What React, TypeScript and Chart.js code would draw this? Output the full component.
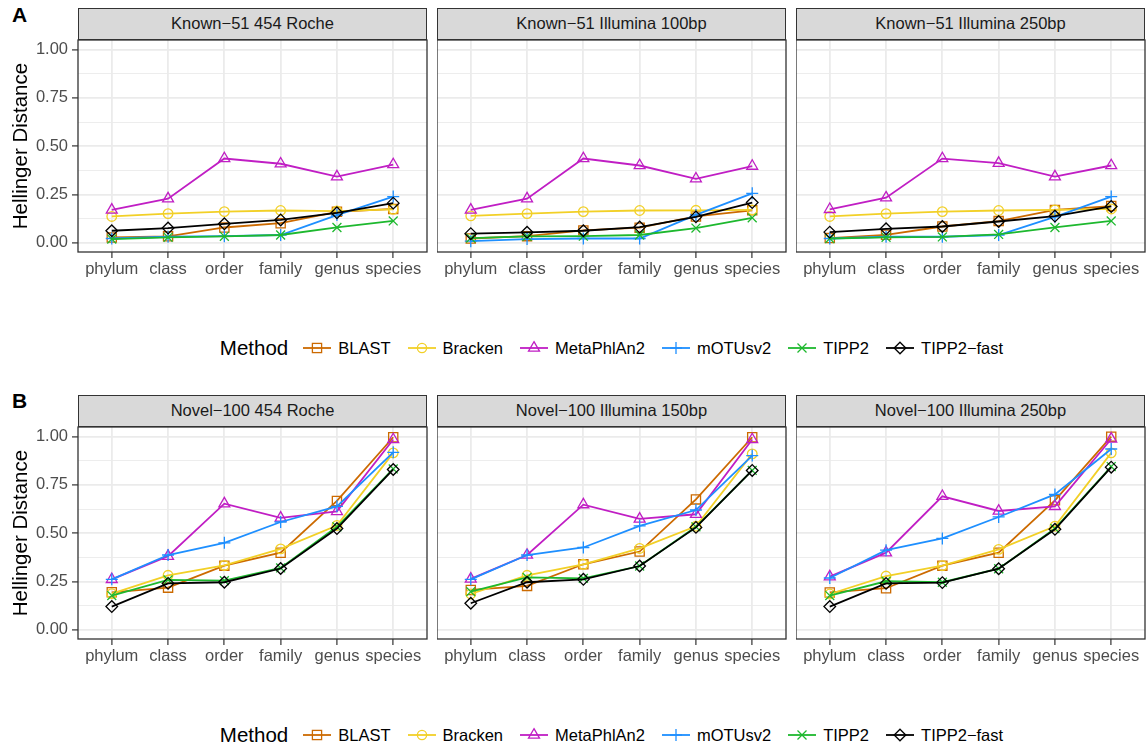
import React, { useEffect, useRef } from "react";
import { Chart, registerables } from "chart.js";

Chart.register(...registerables);

const FONT = "'Liberation Sans', Arial, Helvetica, sans-serif";

// ---- data ----
const categories = ["phylum", "class", "order", "family", "genus", "species"];
const methods = ["BLAST", "Bracken", "MetaPhlAn2", "mOTUsv2", "TIPP2", "TIPP2\u2212fast"];
const methodColors = ["#CC6A00", "#F2D027", "#C01EC4", "#1E8FFF", "#1DB82E", "#000000"];
const methodShapes = ["rect", "circle", "triangle", "cross", "crossRot", "rectRot"];
const yTickValues = [0, 0.125, 0.25, 0.375, 0.5, 0.625, 0.75, 0.875, 1];
const yTickLabels = ["0.00", "", "0.25", "", "0.50", "", "0.75", "", "1.00"];

const rowATitles = ["Known\u221251 454 Roche", "Known\u221251 Illumina 100bp", "Known\u221251 Illumina 250bp"];
const rowBTitles = ["Novel\u2212100 454 Roche", "Novel\u2212100 Illumina 150bp", "Novel\u2212100 Illumina 250bp"];

// rows: BLAST, Bracken, MetaPhlAn2, mOTUsv2, TIPP2, TIPP2-fast
const known454 = [
  [0.027, 0.033, 0.079, 0.101, 0.160, 0.175],
  [0.136, 0.151, 0.161, 0.167, 0.164, 0.173],
  [0.170, 0.228, 0.436, 0.409, 0.342, 0.405],
  [0.022, 0.031, 0.034, 0.040, 0.143, 0.239],
  [0.019, 0.028, 0.033, 0.040, 0.079, 0.113],
  [0.062, 0.076, 0.098, 0.118, 0.155, 0.205],
];
const known100 = [
  [0.022, 0.034, 0.064, 0.078, 0.136, 0.168],
  [0.139, 0.151, 0.161, 0.167, 0.168, 0.170],
  [0.170, 0.228, 0.436, 0.400, 0.331, 0.397],
  [0.008, 0.019, 0.022, 0.022, 0.144, 0.256],
  [0.024, 0.033, 0.034, 0.040, 0.076, 0.129],
  [0.047, 0.054, 0.062, 0.081, 0.134, 0.208],
];
const known250 = [
  [0.024, 0.041, 0.084, 0.112, 0.170, 0.190],
  [0.136, 0.151, 0.161, 0.167, 0.170, 0.175],
  [0.173, 0.233, 0.436, 0.412, 0.342, 0.400],
  [0.022, 0.031, 0.031, 0.040, 0.134, 0.239],
  [0.022, 0.028, 0.030, 0.043, 0.079, 0.113],
  [0.055, 0.072, 0.084, 0.110, 0.138, 0.188],
];
const novel454 = [
  [0.194, 0.218, 0.332, 0.399, 0.667, 0.997],
  [0.187, 0.282, 0.333, 0.419, 0.540, 0.916],
  [0.261, 0.381, 0.653, 0.579, 0.613, 0.985],
  [0.261, 0.387, 0.450, 0.558, 0.639, 0.919],
  [0.177, 0.258, 0.254, 0.320, 0.533, 0.833],
  [0.120, 0.240, 0.246, 0.317, 0.524, 0.830],
];
const novel150 = [
  [0.206, 0.227, 0.339, 0.405, 0.675, 0.997],
  [0.185, 0.282, 0.339, 0.421, 0.536, 0.911],
  [0.263, 0.387, 0.648, 0.574, 0.598, 0.985],
  [0.261, 0.387, 0.426, 0.538, 0.620, 0.902],
  [0.197, 0.271, 0.266, 0.330, 0.533, 0.825],
  [0.137, 0.246, 0.261, 0.330, 0.530, 0.825],
];
const novel250 = [
  [0.193, 0.215, 0.332, 0.399, 0.670, 1.000],
  [0.185, 0.278, 0.332, 0.416, 0.536, 0.916],
  [0.275, 0.399, 0.691, 0.615, 0.639, 0.988],
  [0.268, 0.412, 0.473, 0.584, 0.701, 0.936],
  [0.177, 0.251, 0.246, 0.316, 0.524, 0.845],
  [0.120, 0.240, 0.244, 0.316, 0.520, 0.842],
];

// ---- layout ----
const COL_LEFT = [78, 437, 796];
const PANEL_W = 349;
const STRIP_H = 32;
const PLOT_H = 212;
const Y_AXIS_W = 78;
const X_AXIS_H = 40;
const POINT_RADIUS: Record<string, number> = {
  rect: 6.5, circle: 4.8, triangle: 6.3, cross: 6, crossRot: 6.3, rectRot: 5.8,
};

const isMajor = (v: number) => Math.abs(v * 4 - Math.round(v * 4)) < 1e-6;

const borderPlugin = {
  id: "panelBorder",
  afterDraw(chart: any) {
    const { ctx, chartArea: a } = chart;
    ctx.save();
    ctx.strokeStyle = "#333333";
    ctx.lineWidth = 1.3;
    ctx.strokeRect(a.left, a.top, a.right - a.left, a.bottom - a.top);
    ctx.restore();
  },
};

function Panel({ col, plotTop, values, title }: { col: number; plotTop: number; values: number[][]; title: string }) {
  const ref = useRef<HTMLCanvasElement | null>(null);
  const showY = col === 0;
  const canvasLeft = showY ? 0 : COL_LEFT[col];
  const canvasW = (showY ? Y_AXIS_W : 0) + PANEL_W + 1;
  const canvasH = 1 + PLOT_H + X_AXIS_H;

  useEffect(() => {
    if (!ref.current) return;
    const datasets = methods.map((m, i) => ({
      label: m,
      data: values[i].map((v, j) => ({ x: j, y: v })),
      borderColor: methodColors[i],
      backgroundColor: methodColors[i],
      borderWidth: 1.8,
      pointStyle: methodShapes[i] as any,
      pointRadius: POINT_RADIUS[methodShapes[i]],
      pointBorderColor: methodColors[i],
      pointBackgroundColor: "rgba(0,0,0,0)",
      pointBorderWidth: 1.3,
      tension: 0,
      order: methods.length - 1 - i,
    }));
    const chart = new Chart(ref.current, {
      type: "line",
      data: { datasets },
      plugins: [borderPlugin],
      options: {
        animation: false,
        responsive: false,
        devicePixelRatio: 1,
        layout: { autoPadding: false, padding: { top: 1, right: 1, left: 0, bottom: 0 } },
        plugins: { legend: { display: false }, tooltip: { enabled: false } },
        scales: {
          x: {
            type: "linear",
            min: -0.6,
            max: 5.6,
            afterBuildTicks: (s: any) => {
              s.ticks = categories.map((_, i) => ({ value: i }));
            },
            afterFit: (s: any) => {
              s.height = X_AXIS_H;
              s.paddingLeft = 0;
              s.paddingRight = 0;
            },
            border: { display: false },
            grid: {
              color: "#EBEBEB",
              lineWidth: 1.8,
              drawTicks: true,
              tickLength: 6,
              tickColor: "#333333",
              tickWidth: 1.2,
            },
            ticks: {
              autoSkip: false,
              maxRotation: 0,
              minRotation: 0,
              padding: 2,
              color: "#4D4D4D",
              font: { family: FONT, size: 16.5 },
              callback: (v: any) => categories[Math.round(Number(v))] ?? "",
            },
          },
          y: {
            type: "linear",
            min: -0.048,
            max: 1.05,
            afterBuildTicks: (s: any) => {
              s.ticks = yTickValues.map((v) => ({ value: v }));
            },
            afterFit: (s: any) => {
              s.width = showY ? Y_AXIS_W : 0;
              s.paddingTop = 0;
              s.paddingBottom = 0;
            },
            border: { display: false },
            grid: {
              color: "#EBEBEB",
              lineWidth: (c: any) => (c.tick && isMajor(c.tick.value) ? 1.8 : 0.9),
              drawTicks: showY,
              tickLength: 6,
              tickColor: (c: any) => (c.tick && isMajor(c.tick.value) ? "#333333" : "rgba(0,0,0,0)"),
              tickWidth: 1.2,
            },
            ticks: {
              display: showY,
              padding: 4,
              color: "#4D4D4D",
              font: { family: FONT, size: 16.5 },
              callback: (v: any) => {
                const idx = yTickValues.findIndex((t) => Math.abs(t - Number(v)) < 1e-6);
                return idx >= 0 ? yTickLabels[idx] : "";
              },
            },
          },
        },
      } as any,
    });
    return () => chart.destroy();
  }, [values, showY]);

  return (
    <>
      <div
        style={{
          position: "absolute",
          left: COL_LEFT[col],
          top: plotTop - STRIP_H,
          width: PANEL_W,
          height: STRIP_H,
          boxSizing: "border-box",
          background: "#D9D9D9",
          border: "1.3px solid #333333",
          display: "flex",
          alignItems: "center",
          justifyContent: "center",
          fontFamily: FONT,
          fontSize: 16.5,
          color: "#1A1A1A",
          whiteSpace: "nowrap",
        }}
      >
        {title}
      </div>
      <canvas
        ref={ref}
        width={canvasW}
        height={canvasH}
        style={{ position: "absolute", left: canvasLeft, top: plotTop - 1, width: canvasW, height: canvasH }}
      />
    </>
  );
}

function LegendSymbol({ shape, color }: { shape: string; color: string }) {
  const cx = 14, cy = 10;
  let mark: React.ReactNode = null;
  const sw = 1.3;
  if (shape === "rect") mark = <rect x={cx - 4.6} y={cy - 4.6} width={9.2} height={9.2} fill="none" stroke={color} strokeWidth={sw} />;
  else if (shape === "circle") mark = <circle cx={cx} cy={cy} r={4.6} fill="none" stroke={color} strokeWidth={sw} />;
  else if (shape === "triangle")
    mark = <polygon points={`${cx},${cy - 6.3} ${cx + 5.5},${cy + 3.2} ${cx - 5.5},${cy + 3.2}`} fill="none" stroke={color} strokeWidth={sw} />;
  else if (shape === "cross")
    mark = (
      <g stroke={color} strokeWidth={sw}>
        <line x1={cx - 6} y1={cy} x2={cx + 6} y2={cy} />
        <line x1={cx} y1={cy - 6} x2={cx} y2={cy + 6} />
      </g>
    );
  else if (shape === "crossRot")
    mark = (
      <g stroke={color} strokeWidth={sw}>
        <line x1={cx - 4.5} y1={cy - 4.5} x2={cx + 4.5} y2={cy + 4.5} />
        <line x1={cx - 4.5} y1={cy + 4.5} x2={cx + 4.5} y2={cy - 4.5} />
      </g>
    );
  else if (shape === "rectRot")
    mark = <polygon points={`${cx},${cy - 5.8} ${cx + 5.8},${cy} ${cx},${cy + 5.8} ${cx - 5.8},${cy}`} fill="none" stroke={color} strokeWidth={sw} />;
  return (
    <svg width={28} height={20} style={{ display: "block" }}>
      <line x1={0} y1={cy} x2={28} y2={cy} stroke={color} strokeWidth={1.8} />
      {mark}
    </svg>
  );
}

function Legend({ centerY }: { centerY: number }) {
  return (
    <div
      style={{
        position: "absolute",
        left: COL_LEFT[0],
        width: COL_LEFT[2] + PANEL_W - COL_LEFT[0],
        top: centerY - 14,
        height: 28,
        display: "flex",
        alignItems: "center",
        justifyContent: "center",
        fontFamily: FONT,
        color: "#000",
        whiteSpace: "nowrap",
      }}
    >
      <span style={{ fontSize: 20.5, marginRight: 15 }}>Method</span>
      {methods.map((m, i) => (
        <div key={m} style={{ display: "flex", alignItems: "center", marginRight: i < methods.length - 1 ? 17 : 0 }}>
          <LegendSymbol shape={methodShapes[i]} color={methodColors[i]} />
          <span style={{ fontSize: 16.5, marginLeft: 7 }}>{m}</span>
        </div>
      ))}
    </div>
  );
}

function YTitle({ centerY }: { centerY: number }) {
  return (
    <div
      style={{
        position: "absolute",
        left: 20,
        top: centerY,
        transform: "translate(-50%, -50%) rotate(-90deg)",
        fontFamily: FONT,
        fontSize: 20.5,
        color: "#000",
        whiteSpace: "nowrap",
      }}
    >
      Hellinger Distance
    </div>
  );
}

export default function App() {
  const rowATop = 39.5;
  const rowBTop = 426.5;
  const rowAData = [known454, known100, known250];
  const rowBData = [novel454, novel150, novel250];
  return (
    <div style={{ position: "absolute", left: 0, top: 0, width: 1147, height: 748, background: "#fff", overflow: "hidden" }}>
      <div style={{ position: "absolute", left: 12, top: 3, fontFamily: FONT, fontWeight: "bold", fontSize: 21 }}>A</div>
      <div style={{ position: "absolute", left: 12, top: 389, fontFamily: FONT, fontWeight: "bold", fontSize: 21 }}>B</div>
      {rowAData.map((d, c) => (
        <Panel key={"a" + c} col={c} plotTop={rowATop} values={d} title={rowATitles[c]} />
      ))}
      {rowBData.map((d, c) => (
        <Panel key={"b" + c} col={c} plotTop={rowBTop} values={d} title={rowBTitles[c]} />
      ))}
      <YTitle centerY={rowATop + PLOT_H / 2} />
      <YTitle centerY={rowBTop + PLOT_H / 2} />
      <Legend centerY={348} />
      <Legend centerY={735} />
    </div>
  );
}
